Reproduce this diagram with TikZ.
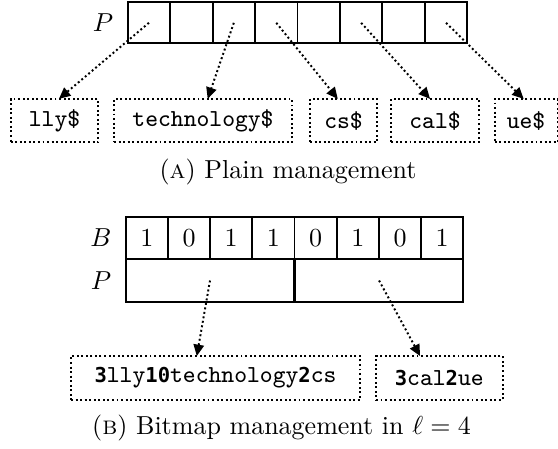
\documentclass[tikz,border=0pt]{standalone}
\usepackage{fontspec}
\usetikzlibrary{arrows.meta}
\newfontfamily\bolddigits{DejaVu Sans Mono}[Scale=0.84]
\newcommand\strfont{\fontsize{9.4}{11}\selectfont\ttfamily}
\newcommand\bd[1]{{\bolddigits\bfseries #1}}
\begin{document}
\begin{tikzpicture}[x=0.3846pt,y=-0.3846pt,
  every node/.style={inner sep=0pt, outer sep=0pt},
  cell/.style={draw, line width=0.75pt},
  strbox/.style={draw, line width=0.75pt, densely dotted, minimum height=16.7pt, font=\strfont},
  ptr/.style={line width=0.75pt, densely dotted, -{Triangle[length=4.4pt,width=4pt]}},
  lab/.style={font=\normalsize},
]
\useasboundingbox (0,0) rectangle (558,448);
% (A) plain management
\foreach \i in {1,...,8}
  \node[cell, minimum width=16.33pt, minimum height=15.8pt] (t\i) at ({127.7+42.45*(\i-0.5)},22.8) {};
\node[lab] (tp) at (103,22.8) {$P$};
\node[strbox, minimum width=33.7pt]  (s1) at (54.5,120.6) {lly\$};
\node[strbox, minimum width=68.46pt] (s2) at (203,120.6) {technology\$};
\node[strbox, minimum width=25.77pt] (s3) at (343.5,120.6) {cs\$};
\node[strbox, minimum width=33.6pt]  (s4) at (435,120.6) {cal\$};
\node[strbox, minimum width=24.2pt]  (s5) at (526,120.6) {ue\$};
\draw[ptr] (t1.center) -- ([xshift=1.7pt]s1.north);
\draw[ptr] (t3.center) -- ([xshift=1.8pt]s2.north);
\draw[ptr] (t4.center) -- ([xshift=-2.2pt]s3.north);
\draw[ptr] (t6.center) -- ([xshift=-1.9pt]s4.north);
\draw[ptr] (t8.center) -- ([xshift=-0.9pt]s5.north);
\node[lab] (capA) at (288,172) {(\textsc{a}) Plain management};
% (B) bitmap management
\foreach \d [count=\i] in {1,0,1,1,0,1,0,1}
  \node[cell, minimum width=16.23pt, minimum height=16.38pt] (b\i) at ({125.7+42.2*(\i-0.5)},238) {\d};
\node[cell, minimum width=64.92pt, minimum height=16.3pt] (p1) at (210,280.5) {};
\node[cell, minimum width=64.92pt, minimum height=16.3pt] (p2) at (379.05,280.5) {};
\node[lab] (lb) at (101,238) {$B$};
\node[lab] (lp) at (101,280.5) {$P$};
\node[strbox, minimum width=111.15pt, minimum height=16.9pt] (l1) at (215.5,378) {\bd{3}lly\bd{10}technology\bd{2}cs};
\node[strbox, minimum width=48.73pt, minimum height=16.9pt] (l2) at (439.3,378) {\bd{3}cal\bd{2}ue};
\draw[ptr] (p1.center) -- ([xshift=-7.2pt]l1.north);
\draw[ptr] (p2.center) -- ([xshift=-7.4pt]l2.north);
\node[lab] (capB) at (281.5,428) {(\textsc{b}) Bitmap management in $\ell = 4$};
\end{tikzpicture}
\end{document}
